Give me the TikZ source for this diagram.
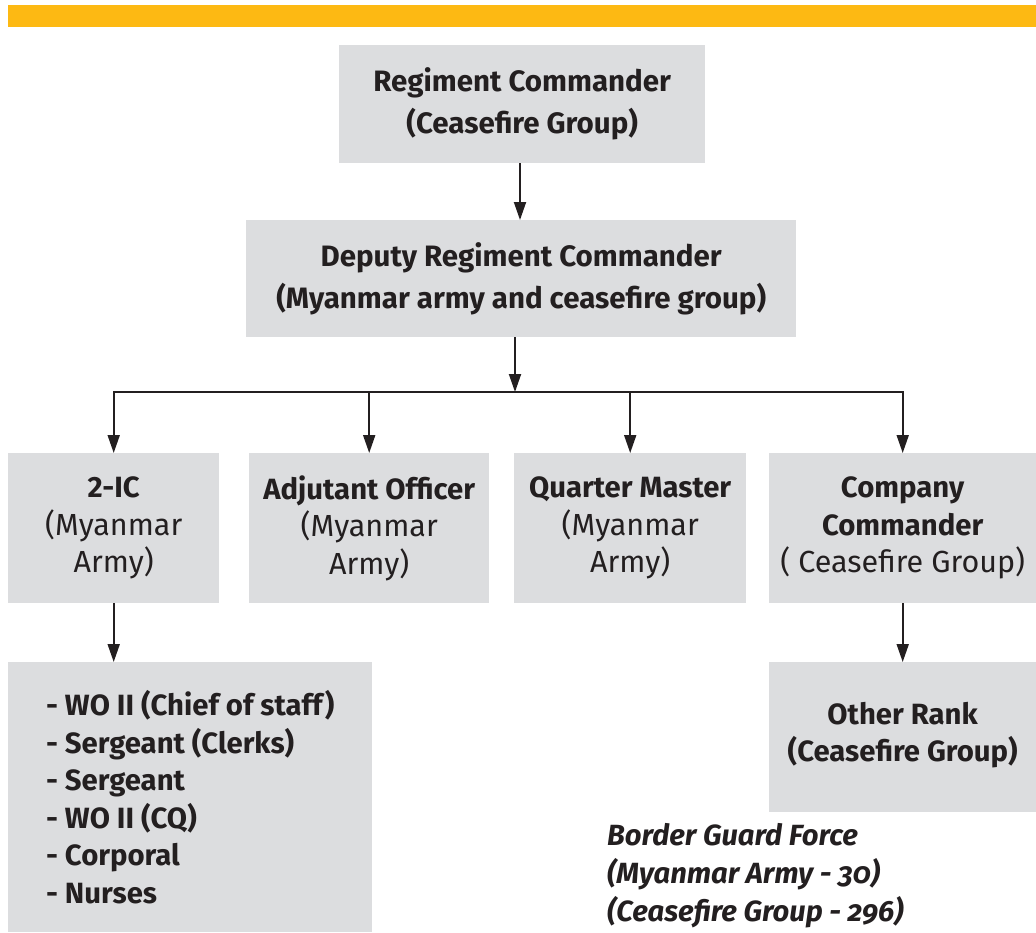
\documentclass[tikz,border=0pt]{standalone}
\usepackage{fontspec}
\setmainfont{Fira Sans}
\newfontfamily\capfont[Numbers=OldStyle]{Fira Sans}
\usetikzlibrary{arrows.meta}
\definecolor{barorange}{HTML}{FDB913}
\definecolor{boxgray}{HTML}{DCDDDF}
\definecolor{ink}{HTML}{231F20}
\newcommand{\regtext}{\fontsize{30.5}{37.5}\selectfont}
\begin{document}
\begin{tikzpicture}[x=1pt,y=-1pt,
  box/.style={fill=boxgray, inner sep=0pt, align=center, text=ink, anchor=north west},
  bigtext/.style={font=\fontsize{29.5}{42}\selectfont},
  midtext/.style={font=\fontsize{29.3}{37.5}\selectfont},
  arr/.style={draw=ink, line width=1.9pt, -{Triangle[length=18pt,width=12pt]}},
]
\useasboundingbox (0,0) rectangle (1036,932);
\fill[barorange] (8,5) rectangle (1036,27);

\node[box, bigtext, minimum width=366pt, minimum height=118pt] (rc) at (339,45)
  {\textbf{Regiment Commander}\\\textbf{(Ceasefire Group)}};
\node[box, bigtext, minimum width=550pt, minimum height=117pt] (drc) at (246,220)
  {\textbf{Deputy Regiment Commander}\\\textbf{(Myanmar army and ceasefire group)}};

\node[box, midtext, minimum width=211pt, minimum height=150pt] (ic) at (8,453)
  {\textbf{2-IC}\\{\regtext(Myanmar}\\{\regtext Army)}};
\node[box, midtext, minimum width=240pt, minimum height=150pt] (adj) at (249,453)
  {\textbf{Adjutant Officer}\\{\regtext(Myanmar}\\{\regtext Army)}};
\node[box, midtext, minimum width=232pt, minimum height=150pt] (qm) at (514,453)
  {\textbf{Quarter Master}\\{\regtext(Myanmar}\\{\regtext Army)}};
\node[box, midtext, minimum width=267pt, minimum height=150pt] (cc) at (769,453)
  {\textbf{Company}\\\textbf{Commander}\\{\regtext( Ceasefire Group)}};

\node[box, midtext, minimum width=364pt, minimum height=270pt, align=left] (list) at (8,662)
  {\textbf{- WO II (Chief of staff)}\\\textbf{- Sergeant (Clerks)}\\\textbf{- Sergeant}\\\textbf{- WO II (CQ)}\\\textbf{- Corporal}\\\textbf{- Nurses}};
\node[box, midtext, minimum width=267pt, minimum height=150pt] (orank) at (769,662)
  {\textbf{Other Rank}\\\textbf{(Ceasefire Group)}\\[-27pt]};

\node[anchor=west, align=left, inner sep=0pt, text=ink, font=\capfont\bfseries\itshape\fontsize{29.2}{38}\selectfont] (cap) at (607,876)
  {Border Guard Force\\(Myanmar Army - 30)\\(Ceasefire Group - 296)};

\coordinate (jn) at (515,392);

\draw[arr] (rc.south -| 520,0) -- (drc.north -| 520,0);
\draw[arr] (drc.south -| jn) -- (jn);
\draw[arr] (jn) -| (ic.north);
\draw[arr] (jn) -| (cc.north);
\draw[arr] (adj.north |- jn) -- (adj.north);
\draw[arr] (qm.north |- jn) -- (qm.north);
\draw[arr] (ic.south) -- (ic.south |- list.north);
\draw[arr] (cc.south) -- (cc.south |- orank.north);
\end{tikzpicture}
\end{document}
